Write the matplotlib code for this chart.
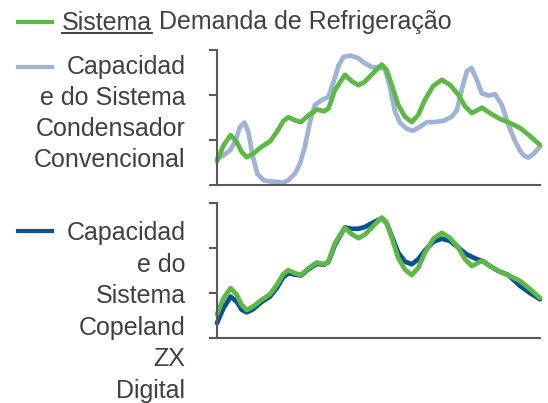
import matplotlib
matplotlib.use("Agg")
import matplotlib.pyplot as plt
from matplotlib.lines import Line2D

# ---------------- data (x: 0..100 across the time axis, y: 0..3) ----------------
demand_x = [0, 2.0, 4.2, 6.1, 7.6, 9.2, 11.2, 13.8, 16.4, 18.5, 20.5, 22.1, 24.1, 26.0,
            28.3, 30.9, 33.1, 34.5, 36.5, 39.6, 41.7, 43.8, 45.8, 48.9, 51.0, 52.5,
            54.1, 56.1, 58.2, 60.3, 62.3, 64.4, 67.0, 69.6, 72.1, 74.7, 76.8, 78.9,
            82.0, 84.5, 87.6, 90.7, 93.8, 96.9, 100]
demand_y = [0.52, 0.87, 1.10, 0.95, 0.73, 0.61, 0.69, 0.84, 0.96, 1.17, 1.41, 1.50, 1.43, 1.39,
            1.54, 1.67, 1.63, 1.69, 2.10, 2.44, 2.30, 2.21, 2.29, 2.52, 2.67, 2.55,
            2.22, 1.77, 1.51, 1.39, 1.55, 1.89, 2.20, 2.33, 2.22, 2.00, 1.74, 1.59,
            1.71, 1.59, 1.46, 1.37, 1.26, 1.08, 0.88]

conv_x = [0, 2.0, 4.0, 5.6, 7.1, 8.5, 9.7, 11.0, 12.5, 14.4, 16.4, 18.5, 20.3, 22.1, 24.1,
          25.7, 27.2, 28.8, 30.3, 32.4, 34.5, 36.1, 37.7, 39.2, 41.3, 43.8, 45.3, 47.9,
          49.9, 52.0, 53.6, 55.1, 56.7, 58.8, 60.8, 62.9, 65.0, 67.6, 70.2, 72.7, 74.3,
          75.9, 77.4, 78.8, 80.2, 82.0, 84.1, 86.1, 88.2, 90.2, 92.3, 93.8, 94.9, 96.4,
          98.1, 100]
conv_y = [0.58, 0.65, 0.76, 0.95, 1.28, 1.38, 1.17, 0.65, 0.24, 0.10, 0.07, 0.06, 0.04, 0.10, 0.24,
          0.47, 0.84, 1.40, 1.77, 1.88, 1.95, 2.29, 2.66, 2.84, 2.87, 2.81, 2.72, 2.61,
          2.61, 2.58, 2.15, 1.63, 1.37, 1.24, 1.20, 1.29, 1.39, 1.39, 1.42, 1.51, 1.66,
          2.15, 2.53, 2.59, 2.37, 2.03, 1.98, 2.01, 1.77, 1.33, 0.96, 0.76, 0.65, 0.60,
          0.69, 0.85]

zx_x = [0, 2.0, 4.2, 6.1, 7.6, 9.2, 11.2, 13.8, 16.4, 18.5, 20.5, 22.1, 24.1, 26.0,
        28.3, 30.9, 33.1, 34.5, 36.5, 39.6, 41.7, 43.8, 45.8, 48.9, 51.0, 52.5,
        54.1, 56.1, 58.2, 60.3, 62.3, 64.4, 67.0, 69.6, 72.1, 74.7, 77.3, 79.9,
        82.5, 84.5, 87.1, 90.2, 93.8, 96.9, 100]
zx_y = [0.32, 0.65, 0.91, 0.80, 0.62, 0.56, 0.63, 0.79, 0.91, 1.10, 1.34, 1.43, 1.40, 1.38,
        1.52, 1.64, 1.62, 1.68, 2.06, 2.45, 2.42, 2.42, 2.46, 2.58, 2.65, 2.55,
        2.26, 1.89, 1.69, 1.63, 1.74, 1.94, 2.13, 2.20, 2.15, 2.00, 1.85, 1.76,
        1.69, 1.59, 1.48, 1.39, 1.15, 0.99, 0.85]

y_ticks = [0, 1, 2, 3]

label_demand_u = "Sistema"
label_demand_rest = " Demanda de Refrigeração"
label_conv = ["Capacidad", "e do Sistema", "Condensador", "Convencional"]
label_zx = ["Capacidad", "e do", "Sistema", "Copeland", "ZX", "Digital"]

# ---------------- style ----------------
GREEN = "#5db846"
LIGHT = "#9fb3d6"
DARK = "#0b4f97"
TXT = "#404040"
SPINE = "#595959"
FONT = "Liberation Sans"
FS = 18

W, H = 548, 403
fig = plt.figure(figsize=(W / 100, H / 100), dpi=100)

def fx(px):
    return px / W

def fy(py):
    return 1 - py / H

def make_ax(top_px, bottom_px):
    ax = fig.add_axes([fx(217), fy(bottom_px), (540 - 217) / W, (bottom_px - top_px) / H])
    ax.set_xlim(0, 100)
    ax.set_ylim(0, 3)
    ax.set_yticks(y_ticks)
    ax.set_yticklabels([])
    ax.set_xticks([])
    for s in ("top", "right"):
        ax.spines[s].set_visible(False)
    for s in ("left", "bottom"):
        ax.spines[s].set_color(SPINE)
        ax.spines[s].set_linewidth(1.5)
    ax.tick_params(axis="y", length=5.8, width=1.5, color=SPINE, direction="out")
    ax.patch.set_alpha(0)
    return ax

ax1 = make_ax(49.7, 184.6)
ax2 = make_ax(202.7, 337.5)

lw = 3.4
ax1.plot(conv_x, conv_y, color=LIGHT, lw=lw, solid_joinstyle="round", solid_capstyle="round", clip_on=False)
ax1.plot(demand_x, demand_y, color=GREEN, lw=lw, solid_joinstyle="round", solid_capstyle="round", clip_on=False)
ax2.plot(zx_x, zx_y, color=DARK, lw=lw, solid_joinstyle="round", solid_capstyle="round", clip_on=False)
ax2.plot(demand_x, demand_y, color=GREEN, lw=lw, solid_joinstyle="round", solid_capstyle="round", clip_on=False)

# ---------------- legend ----------------
def handle(py, color):
    fig.add_artist(Line2D([fx(17.5), fx(51.5)], [fy(py), fy(py)], color=color, lw=3.0,
                          transform=fig.transFigure))

handle(22, GREEN)
handle(66.7, LIGHT)
handle(230.7, DARK)

t1 = fig.text(fx(62), fy(29.5), label_demand_u, fontsize=FS, family=FONT, color=TXT,
              ha="left", va="baseline")
fig.canvas.draw()
r = fig.canvas.get_renderer()
bb = t1.get_window_extent(r)
x_end_px = bb.x1
fig.add_artist(Line2D([fx(62), x_end_px / W], [fy(32.5), fy(32.5)], color=TXT, lw=1.4,
                      transform=fig.transFigure))
fig.text(x_end_px / W, fy(29.5), label_demand_rest, fontsize=FS, family=FONT, color=TXT,
         ha="left", va="baseline")

for i, s in enumerate(label_conv):
    fig.text(fx(185.5), fy(74 + 31 * i), s, fontsize=FS, family=FONT, color=TXT,
             ha="right", va="baseline")
for i, s in enumerate(label_zx):
    fig.text(fx(185.5), fy(240 + 31.6 * i), s, fontsize=FS, family=FONT, color=TXT,
             ha="right", va="baseline")

fig.savefig("out.png", dpi=100)
